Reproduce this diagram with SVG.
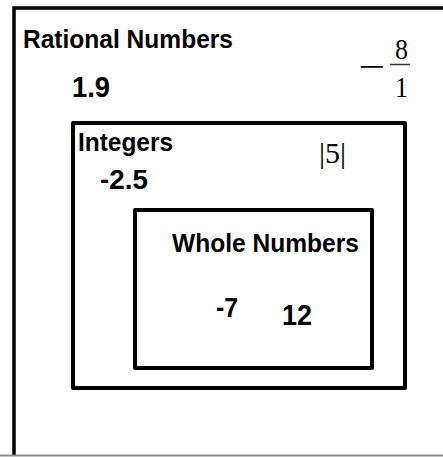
<svg xmlns="http://www.w3.org/2000/svg" width="443" height="457" viewBox="0 0 443 457">
  <style>
    .box { fill: none; stroke: #000; stroke-width: 4; stroke-linejoin: round; }
    .lbl { font-family: "Liberation Sans", Arial, sans-serif; font-weight: bold; fill: #000; }
    .math { font-family: "Liberation Serif", "Times New Roman", serif; fill: #000; }
  </style>
  <rect width="443" height="457" fill="#fff"/>
  <g id="rational">
    <path d="M14,456 L14,8 L445,8" fill="none" stroke="#000" stroke-width="3.5"/>
    <line x1="0" y1="455.5" x2="443" y2="455.5" stroke="#8a8a8a" stroke-width="2"/>
    <text class="lbl" x="23" y="48" font-size="26" textLength="210" lengthAdjust="spacingAndGlyphs">Rational Numbers</text>
    <text class="lbl" x="72" y="97" font-size="29" textLength="38" lengthAdjust="spacingAndGlyphs">1.9</text>
    <text class="math" x="358" y="78" font-size="34" textLength="27" lengthAdjust="spacingAndGlyphs">−</text>
    <text class="math" x="395" y="59" font-size="30" textLength="13" lengthAdjust="spacingAndGlyphs">8</text>
    <line x1="390" y1="64.5" x2="410" y2="64.5" stroke="#333" stroke-width="1.5"/>
    <text class="math" x="395" y="97" font-size="30" textLength="13" lengthAdjust="spacingAndGlyphs">1</text>
  </g>
  <g id="integers">
    <rect class="box" x="73" y="123" width="332" height="265"/>
    <text class="lbl" x="78" y="151" font-size="25" textLength="95" lengthAdjust="spacingAndGlyphs">Integers</text>
    <text class="lbl" x="100" y="189" font-size="27" textLength="48" lengthAdjust="spacingAndGlyphs">-2.5</text>
    <text class="math" x="319" y="163" font-size="30" textLength="27" lengthAdjust="spacingAndGlyphs">|5|</text>
  </g>
  <g id="whole">
    <rect class="box" x="135" y="210" width="237" height="158"/>
    <text class="lbl" x="172" y="252" font-size="26" textLength="187" lengthAdjust="spacingAndGlyphs">Whole Numbers</text>
    <text class="lbl" x="216" y="317" font-size="28" textLength="22" lengthAdjust="spacingAndGlyphs">-7</text>
    <text class="lbl" x="282" y="325" font-size="29" textLength="30" lengthAdjust="spacingAndGlyphs">12</text>
  </g>
</svg>
